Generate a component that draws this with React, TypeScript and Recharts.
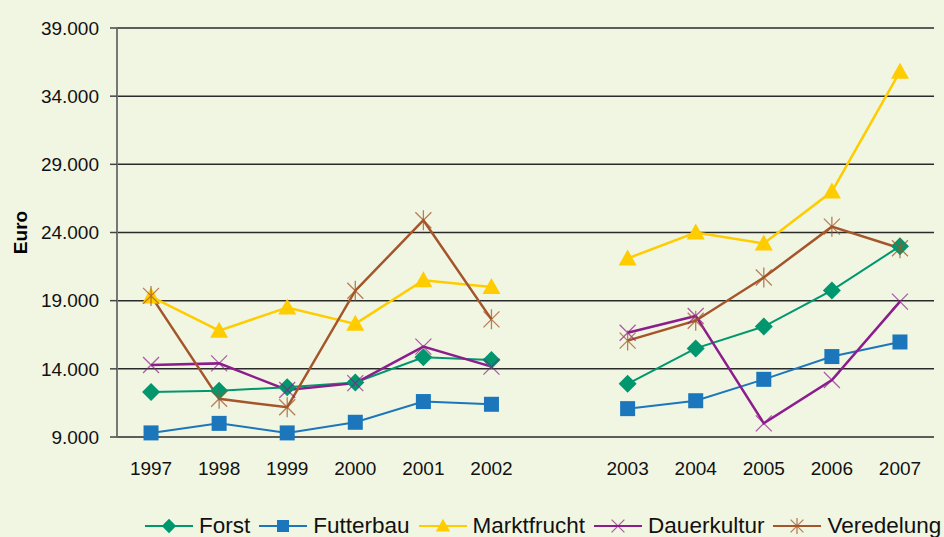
import { CartesianGrid, Legend, Line, LineChart, XAxis, YAxis } from "recharts";

// category slots; the empty one is the gap between 2002 and 2003
const years = ["1997", "1998", "1999", "2000", "2001", "2002", "", "2003", "2004", "2005", "2006", "2007"];

const forst = [12300, 12400, 12650, 13000, 14850, 14650, null, 12900, 15500, 17100, 19750, 23000];
const futterbau = [9300, 10000, 9300, 10080, 11600, 11400, null, 11080, 11660, 13230, 14900, 15970];
const marktfrucht = [19300, 16800, 18500, 17300, 20500, 20000, null, 22100, 24000, 23200, 27000, 35800];
const dauerkultur = [14280, 14400, 12450, 12950, 15630, 14160, null, 16650, 17880, 10000, 13180, 18930];
const veredelung = [19350, 11800, 11180, 19730, 24900, 17630, null, 16070, 17530, 20700, 24430, 22840];

const yTicks = [9000, 14000, 19000, 24000, 29000, 34000, 39000];

type Shape = "diamond" | "square" | "triangle" | "cross" | "star";

const series: { key: string; name: string; color: string; shape: Shape; width: number; values: (number | null)[] }[] = [
  { key: "forst", name: "Forst", color: "#00966e", shape: "diamond", width: 2, values: forst },
  { key: "futterbau", name: "Futterbau", color: "#1b76bc", shape: "square", width: 2, values: futterbau },
  { key: "marktfrucht", name: "Marktfrucht", color: "#ffcc00", shape: "triangle", width: 2.5, values: marktfrucht },
  { key: "dauerkultur", name: "Dauerkultur", color: "#8c1d8c", shape: "cross", width: 2.5, values: dauerkultur },
  { key: "veredelung", name: "Veredelung", color: "#a4552a", shape: "star", width: 2.5, values: veredelung },
];

const data = years.map((year, i) => {
  const row: Record<string, number | string | null> = { x: i + 0.5, year };
  series.forEach((s) => {
    row[s.key] = s.values[i];
  });
  return row;
});

const labelTicks = years.map((y, i) => (y ? i + 0.5 : -1)).filter((v) => v >= 0);
const boundTicks = [...years.map((_, i) => i), years.length];

const BG = "#f1f6e2";
const FONT = "'Liberation Sans', Arial, sans-serif";

function formatEuro(v: number) {
  const thousands = Math.floor(v / 1000);
  return `${thousands}.${String(v % 1000).padStart(3, "0")}`;
}

function Marker({ shape, cx, cy, color, k = 1 }: { shape: Shape; cx: number; cy: number; color: string; k?: number }) {
  switch (shape) {
    case "diamond":
      return <path d={`M${cx},${cy - 9 * k}L${cx + 9 * k},${cy}L${cx},${cy + 9 * k}L${cx - 9 * k},${cy}Z`} fill={color} />;
    case "square":
      return <rect x={cx - 7.5 * k} y={cy - 7.5 * k} width={15 * k} height={15 * k} fill={color} />;
    case "triangle":
      return <path d={`M${cx},${cy - 9 * k}L${cx + 9 * k},${cy + 7 * k}L${cx - 9 * k},${cy + 7 * k}Z`} fill={color} />;
    case "cross":
      return (
        <path
          d={`M${cx - 8 * k},${cy - 8 * k}L${cx + 8 * k},${cy + 8 * k}M${cx - 8 * k},${cy + 8 * k}L${cx + 8 * k},${cy - 8 * k}`}
          stroke={color}
          strokeOpacity={0.7}
          strokeWidth={1.3}
          fill="none"
        />
      );
    case "star":
      return (
        <path
          d={`M${cx - 8 * k},${cy - 8 * k}L${cx + 8 * k},${cy + 8 * k}M${cx - 8 * k},${cy + 8 * k}L${cx + 8 * k},${cy - 8 * k}M${cx},${cy - 10 * k}L${cx},${cy + 10 * k}`}
          stroke={color}
          strokeOpacity={0.75}
          strokeWidth={1.3}
          fill="none"
        />
      );
  }
}

function LegendContent() {
  return (
    <div
      style={{
        display: "flex",
        alignItems: "center",
        height: 20,
        marginTop: 19,
        paddingLeft: 145,
        whiteSpace: "nowrap",
        fontFamily: FONT,
        fontSize: 22.5,
        lineHeight: "20px",
        color: "#111",
      }}
    >
      {series.map((s) => (
        <span key={s.key} style={{ display: "inline-flex", alignItems: "center", marginRight: 9 }}>
          <svg width={48} height={20} style={{ overflow: "visible" }}>
            <line x1={0} y1={10} x2={48} y2={10} stroke={s.color} strokeWidth={2} />
            <Marker shape={s.shape} cx={24} cy={10} color={s.color} k={0.8} />
          </svg>
          <span style={{ marginLeft: 6 }}>{s.name}</span>
        </span>
      ))}
    </div>
  );
}

export default function App() {
  return (
    <div style={{ position: "absolute", left: 0, top: 0, width: 944, height: 537, background: BG, overflow: "hidden" }}>
      <LineChart
        width={944}
        height={537}
        data={data}
        margin={{ top: 28, right: 10, left: 0, bottom: 0 }}
        style={{ fontFamily: FONT }}
      >
        <CartesianGrid xAxisId="cat" vertical={false} stroke="#2a2a2a" strokeWidth={1.5} />
        <XAxis
          xAxisId="bounds"
          dataKey="x"
          type="number"
          domain={[0, years.length]}
          ticks={boundTicks}
          tick={false}
          height={0}
          tickSize={7}
          tickLine={{ stroke: "#444", strokeWidth: 1.5 }}
          axisLine={{ stroke: "#777", strokeWidth: 2 }}
        />
        <XAxis
          xAxisId="cat"
          dataKey="x"
          type="number"
          domain={[0, years.length]}
          ticks={labelTicks}
          tickFormatter={(v: number) => years[Math.floor(v)]}
          height={60}
          tickSize={0}
          tickMargin={25}
          tickLine={false}
          axisLine={false}
          interval={0}
          tick={{ fill: "#111", fontSize: 19 }}
        />
        <YAxis
          domain={[9000, 39000]}
          ticks={yTicks}
          tickFormatter={formatEuro}
          width={117}
          tickSize={7}
          tickMargin={11}
          tick={{ fill: "#111", fontSize: 19 }}
          tickLine={{ stroke: "#444", strokeWidth: 1.5 }}
          axisLine={{ stroke: "#777", strokeWidth: 2 }}
          label={{
            value: "Euro",
            angle: -90,
            position: "insideLeft",
            offset: 20,
            style: { textAnchor: "middle", fontWeight: "bold", fontSize: 19, fill: "#000" },
          }}
        />
        <Legend verticalAlign="bottom" content={<LegendContent />} wrapperStyle={{ left: 0, bottom: 0, width: 944, height: 40 }} />
        {series.map((s) => (
          <Line
            key={s.key}
            xAxisId="cat"
            dataKey={s.key}
            name={s.name}
            stroke={s.color}
            strokeWidth={s.width}
            isAnimationActive={false}
            activeDot={false}
            dot={(p: { cx?: number; cy?: number; index: number; value?: number | null }) =>
              p.value == null || p.cx == null || p.cy == null ? (
                <g key={`${s.key}-${p.index}`} />
              ) : (
                <g key={`${s.key}-${p.index}`}>
                  <Marker shape={s.shape} cx={p.cx} cy={p.cy} color={s.color} />
                </g>
              )
            }
          />
        ))}
      </LineChart>
    </div>
  );
}
